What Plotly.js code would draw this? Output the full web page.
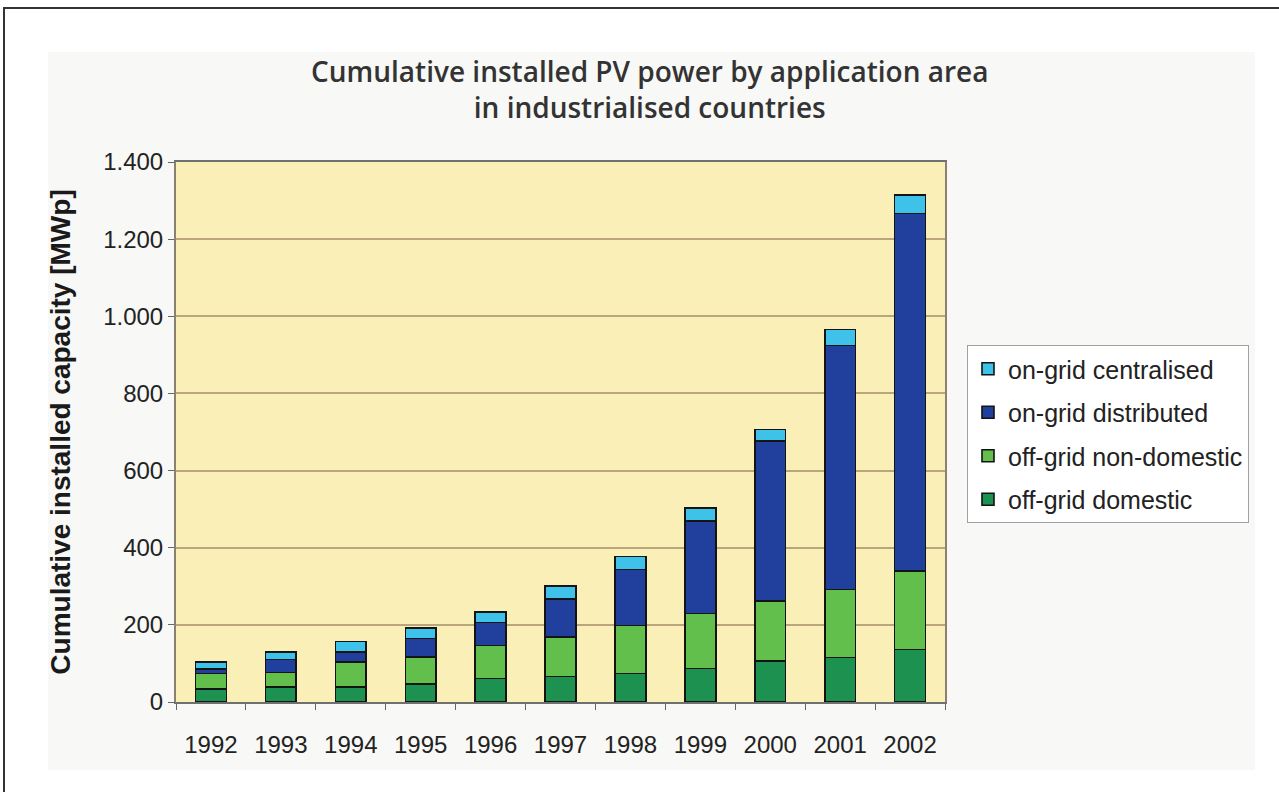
<!DOCTYPE html>
<html>
<head>
<meta charset="utf-8">
<script src="https://cdn.plot.ly/plotly-3.0.1.min.js"></script>
<style>
  html, body { margin: 0; padding: 0; background: #ffffff; width: 1279px; height: 792px; overflow: hidden; }
  #frame { position: absolute; left: 3px; top: 7px; width: 1290px; height: 800px; border-left: 2px solid #333; border-top: 2px solid #333; }
  #panel { position: absolute; left: 48px; top: 52px; width: 1207px; height: 718px; background: #f8f8f6; }
  #chart { position: absolute; left: 0; top: 0; width: 1279px; height: 792px; }
</style>
</head>
<body>
<div id="frame"></div>
<div id="panel"></div>
<div id="chart"></div>
<script>
// Categories (years)
const years = ["1992","1993","1994","1995","1996","1997","1998","1999","2000","2001","2002"];

// Series values, MWp
const offGridDomestic    = [34, 39, 39, 47, 61, 66, 74, 87, 106, 115, 136];
const offGridNonDomestic = [40, 37, 64, 69, 86, 102, 124, 142, 156, 177, 204];
const onGridDistributed  = [12, 34, 26, 49, 59, 99, 146, 240, 414, 632, 926];
const onGridCentralised  = [18, 20, 28, 27, 28, 34, 33, 34, 31, 42, 48];

// Y tick labels
const yTickVals = [0, 200, 400, 600, 800, 1000, 1200, 1400];
const yTickText = ["0", "200", "400", "600", "800", "1.000", "1.200", "1.400"];

const seriesNames = ["off-grid domestic", "off-grid non-domestic", "on-grid distributed", "on-grid centralised"];
const seriesData = [offGridDomestic, offGridNonDomestic, onGridDistributed, onGridCentralised];
const seriesColors = ["#1d9150", "#63bf4b", "#213f9d", "#3fc2ea"];

const traces = seriesData.map((vals, i) => ({
  type: "bar",
  name: seriesNames[i],
  x: years,
  y: vals,
  legendgroup: "g" + i,
  legendrank: seriesData.length - i,
  marker: { color: seriesColors[i], line: { color: "#141414", width: 1.6 } },
  hoverinfo: "x+y+name"
}));

const font = "Liberation Sans, Arial, sans-serif";

const layout = {
  width: 1279,
  height: 792,
  paper_bgcolor: "rgba(0,0,0,0)",
  plot_bgcolor: "#faefb6",
  barmode: "stack",
  bargap: 0.56,
  margin: { l: 176, r: 334, t: 162, b: 90 },
  title: {
    text: "Cumulative installed PV power by application area<br>in industrialised countries",
    font: { family: "Open Sans, sans-serif", size: 28, color: "#333333", weight: 600 },
    x: 0.508, xanchor: "center", xref: "container",
    y: 0.897, yanchor: "top", yref: "container"
  },
  xaxis: {
    type: "category",
    tickfont: { family: font, size: 24, color: "#222222" },
    ticks: "outside",
    tickson: "boundaries",
    ticklen: 6,
    tickcolor: "#666666",
    ticklabelstandoff: 20,
    showline: true,
    linecolor: "#707070",
    linewidth: 2,
    mirror: true,
    showgrid: false,
    zeroline: false
  },
  yaxis: {
    range: [0, 1400],
    tickvals: yTickVals,
    ticktext: yTickText,
    tickfont: { family: font, size: 24, color: "#222222" },
    ticks: "outside",
    ticklen: 6,
    tickcolor: "#666666",
    showline: true,
    linecolor: "#8c8070",
    linewidth: 2,
    mirror: true,
    showgrid: true,
    gridcolor: "#bba57c",
    gridwidth: 2,
    zeroline: false,
    title: {
      text: "Cumulative installed capacity [MWp]",
      font: { family: font, size: 28, color: "#1a1a1a", weight: "bold" },
      standoff: 24
    }
  },
  legend: {
    x: 1.0286, xanchor: "left",
    y: 0.661, yanchor: "top",
    traceorder: "grouped",
    tracegroupgap: 8,
    bgcolor: "#ffffff",
    bordercolor: "#a0a0a0",
    borderwidth: 1,
    font: { family: font, size: 25, color: "#222222" }
  },
  showlegend: true
};

Plotly.newPlot("chart", traces, layout, { displayModeBar: false, staticPlot: true });
</script>
</body>
</html>
